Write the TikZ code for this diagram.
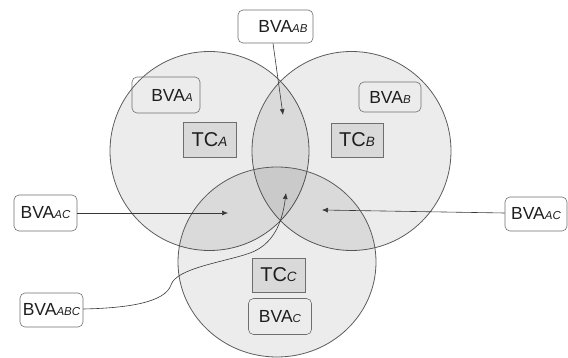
\documentclass[tikz,border=0pt]{standalone}
\usepackage{fontspec}
\setmainfont{Liberation Sans}
\usetikzlibrary{arrows.meta}

\definecolor{edgegray}{HTML}{5C5C5C}
\definecolor{boxgray}{HTML}{6E6E6E}
\definecolor{arrowgray}{HTML}{383838}
\definecolor{txtgray}{HTML}{1E1E1E}
\definecolor{tcfill}{HTML}{D9D9D9}

\newcommand{\bvalbl}[1]{BVA{\fontsize{11.5}{11.5}\selectfont\itshape #1}}
\newcommand{\tclbl}[1]{TC{\fontsize{13.5}{13.5}\selectfont\itshape #1}}

\tikzset{
  setcirc/.style={draw=edgegray, line width=0.8pt, fill=black, fill opacity=0.075},
  bvabox/.style={draw=boxgray, line width=0.6pt, rounded corners=5pt, inner sep=0pt,
    text=txtgray, font=\fontsize{17.5}{17.5}\selectfont},
  tcbox/.style={draw=boxgray, line width=0.6pt, fill=tcfill, inner sep=0pt, text=txtgray,
    font=\fontsize{20}{20}\selectfont, minimum width=53pt, minimum height=35pt},
  pointer/.style={draw=arrowgray, line width=0.6pt, -{Latex[length=6pt,width=5pt]}}
}

\begin{document}
\begin{tikzpicture}[x=1pt, y=-1pt]
        \useasboundingbox (0,0) rectangle (568,358);

        % Circles
        \path[setcirc] (209.5,151) circle [radius=99.5pt];
        \path[setcirc] (351.5,151) circle [radius=99.5pt];
        \path[setcirc] (277,262) ellipse [x radius=99pt, y radius=95pt];

        % Nodes
        \node[bvabox, minimum width=75pt, minimum height=33pt] (bvaab) at (275.5,26.5) {\hspace*{15pt}\bvalbl{AB}};
        \node[bvabox, minimum width=68pt, minimum height=36pt] (bvaa) at (166,95) {\hspace*{12pt}\bvalbl{A}};
        \node[bvabox, minimum width=62pt, minimum height=30pt] (bvab) at (390,97) {\bvalbl{B}};
        \node[tcbox] (tca) at (209.5,139.5) {\tclbl{A}};
        \node[tcbox, minimum width=52pt, minimum height=34pt] (tcb) at (357,140) {\tclbl{B}};
        \node[tcbox, minimum height=34pt] (tcc) at (278.5,275) {\tclbl{C}};
        \node[bvabox, minimum width=63pt, minimum height=36pt] (bvac) at (280,316.5) {\bvalbl{C}};
        \node[bvabox, minimum width=63pt, minimum height=36pt] (bvaacl) at (45.5,213) {\bvalbl{AC}};
        \node[bvabox, minimum width=62pt, minimum height=34pt] (bvaacr) at (536,214) {\bvalbl{AC}};
        \node[bvabox, minimum width=63pt, minimum height=34pt] (bvaabc) at (51.5,310) {\bvalbl{ABC}};

        % Arrow tips
        \coordinate (tipab) at (283,115);
        \coordinate (tipacl) at (228,213);
        \coordinate (tipacr) at (322,210);
        \coordinate (tipabc) at (286,193);

        % Arrows
        \draw[pointer] ([xshift=-2.5pt]bvaab.south) -- (tipab);
        \draw[pointer] (bvaacl.east) -- (tipacl);
        \draw[pointer] ([yshift=1pt]bvaacr.west) -- (tipacr);
        \draw[pointer] ([yshift=1pt]bvaabc.east) .. controls (130,308) and (165,302) .. (171,285)
            .. controls (176,268) and (225,262) .. (250,253)
            .. controls (272,245) and (282,225) .. (tipabc);
    \end{tikzpicture}
\end{document}
